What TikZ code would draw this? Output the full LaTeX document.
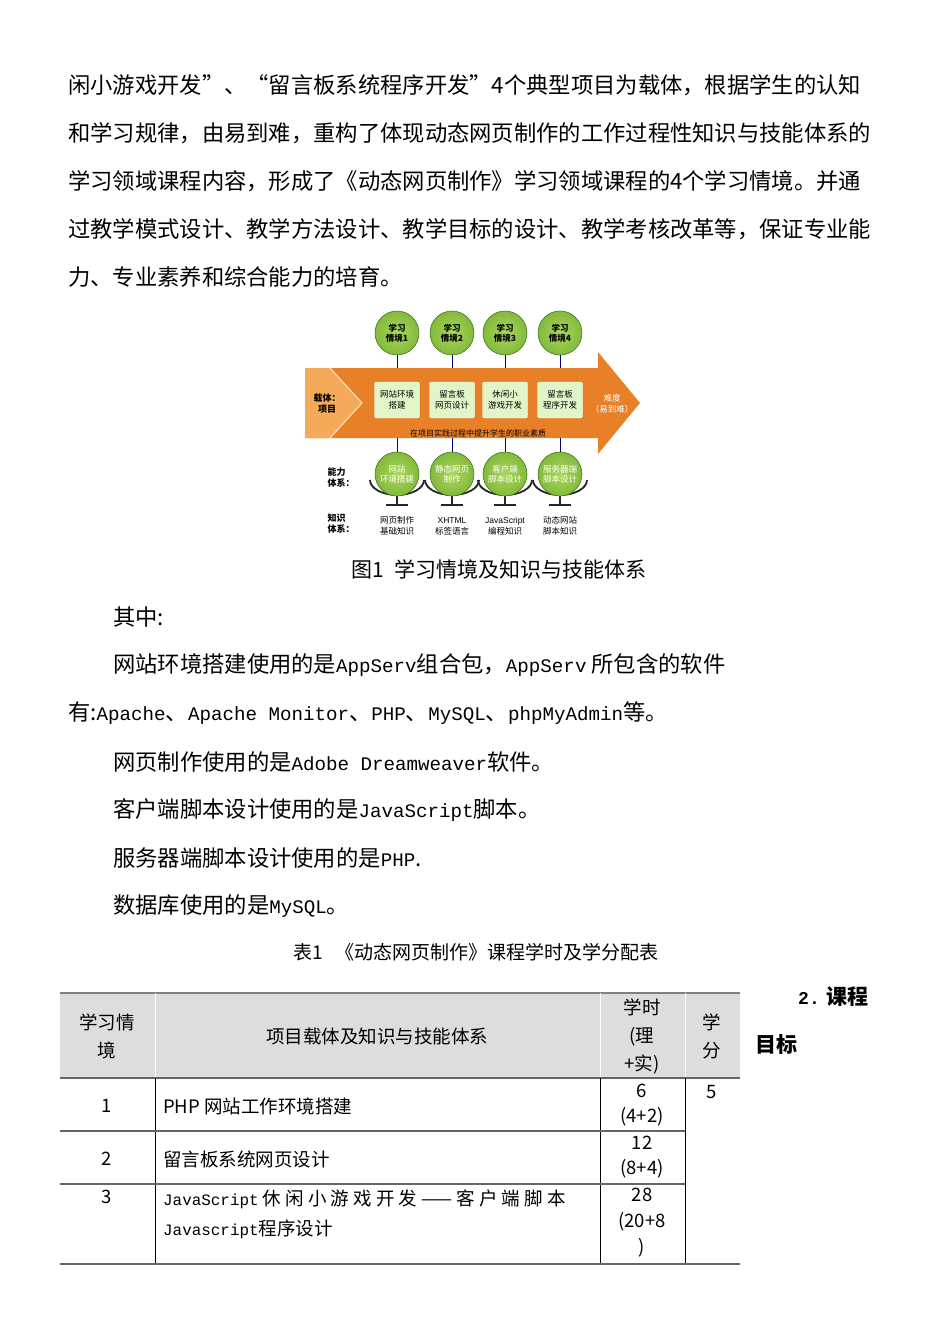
\documentclass[tikz,border=0pt]{standalone}
\usepackage{fontspec}
\setmainfont{Noto Sans CJK SC}
\newfontfamily\monof[Scale=0.86]{Liberation Mono}
\newfontfamily\latf{Liberation Sans}
\definecolor{orA}{RGB}{232,128,40}
\definecolor{orB}{RGB}{245,170,90}
\definecolor{grC}{RGB}{130,185,60}
\definecolor{grD}{RGB}{70,120,30}
\definecolor{bxG}{RGB}{225,245,200}
\definecolor{hdG}{RGB}{221,221,221}
\begin{document}
\begin{tikzpicture}[x=1pt,y=-1pt,
  body/.style={anchor=west,inner sep=0,font=\fontsize{22.3}{26}\selectfont},
  tcell/.style={inner sep=0,font=\fontsize{18.5}{28}\selectfont,align=center},
  ball/.style={circle,minimum size=44,inner sep=0,draw=grD,line width=0.6,inner color={rgb,255:red,170;green,215;blue,90},outer color=grC,align=center,font=\fontsize{8.5}{10}\selectfont\bfseries},
  proj/.style={rectangle,rounded corners=2,fill=bxG,draw=white,minimum width=45,minimum height=36,inner sep=0,align=center,font=\fontsize{8.5}{11}\selectfont},
  small/.style={inner sep=0,align=center,font=\fontsize{8.5}{11}\selectfont},
  conn/.style={draw=blue!50!black,line width=0.8}]
\useasboundingbox (0,0) rectangle (950,1344);
\fill[white] (0,0) rectangle (950,1344);
% paragraph
\node[body] (l1) at (68,85) {闲小游戏开发”、“留言板系统程序开发”4个典型项目为载体，根据学生的认知};
\node[body] (l2) at (68,133) {和学习规律，由易到难，重构了体现动态网页制作的工作过程性知识与技能体系的};
\node[body] (l3) at (68,181) {学习领域课程内容，形成了《动态网页制作》学习领域课程的4个学习情境。并通};
\node[body] (l4) at (68,229) {过教学模式设计、教学方法设计、教学目标的设计、教学考核改革等，保证专业能};
\node[body] (l5) at (68,277) {力、专业素养和综合能力的培育。};
% arrow
\fill[orA] (305,368) -- (598,368) -- (598,352) -- (640,403) -- (598,454) -- (598,438) -- (305,438) -- cycle;
\fill[orB] (305,368) -- (330,368) -- (362,403) -- (330,438) -- (305,438) -- cycle;
\draw[white!80!orange,line width=1] (330,368) -- (362,403) -- (330,438);
\node[small,font=\fontsize{9}{11}\selectfont\bfseries] (carrier) at (327,404) {载体：\\项目};
\node[small,text=white] (diff) at (612,404) {难度\\（易到难）};
\node[small,text=black,font=\fontsize{8}{10}\selectfont] (qual) at (478,433) {在项目实践过程中提升学生的职业素质};
\foreach \x in {397,452,505,560}{
  \draw[line width=1.8,black!85] (\x-27,480) arc[start angle=180,end angle=360,x radius=27,y radius=-15];
  \draw[line width=1.5,black!85] (\x,495) -- (\x,505);
}
\foreach \x/\n/\t/\p/\a/\k [count=\i] in
 {397/1/学习\\情境1/网站环境\\搭建/网站\\环境搭建/网页制作\\基础知识,
  452/2/学习\\情境2/留言板\\网页设计/静态网页\\制作/{\latf XHTML}\\标签语言,
  505/3/学习\\情境3/休闲小\\游戏开发/客户端\\脚本设计/{\latf JavaScript}\\编程知识,
  560/4/学习\\情境4/留言板\\程序开发/服务器端\\脚本设计/动态网站\\脚本知识}{
  \node[ball] (s\i) at (\x,333) {\t};
  \node[proj] (p\i) at (\x,400) {\p};
  \node[ball,font=\fontsize{8.5}{10}\selectfont,text=white] (a\i) at (\x,474) {\a};
  \node[small] (k\i) at (\x,526) {\k};
  \coordinate (top\i) at (\x,368);
  \coordinate (bot\i) at (\x,438);
  \coordinate (st\i) at (\x,505);
  \draw[conn] (s\i) -- (top\i);
  \draw[conn] (bot\i) -- (a\i);
  \draw[line width=1.5,black!85] ([xshift=-11]st\i) -- ([xshift=11]st\i);
}
\node[small,font=\fontsize{9}{11}\selectfont\bfseries,align=left] (abil) at (341,478) {能力\\体系：};
\node[small,font=\fontsize{9}{11}\selectfont\bfseries,align=left] (know) at (341,524) {知识\\体系：};
\node[inner sep=0,font=\fontsize{21}{24}\selectfont] (cap) at (499,569) {图1\ \ 学习情境及知识与技能体系};
% second text
\node[body] (m0) at (113,617) {其中:};
\node[body] (m1) at (113,665) {网站环境搭建使用的是{\monof AppServ}组合包，{\monof AppServ} 所包含的软件};
\node[body] (m2) at (68,713) {有:{\monof Apache}、{\monof Apache Monitor}、{\monof PHP}、{\monof MySQL}、{\monof phpMyAdmin}等。};
\node[body] (m3) at (113,762) {网页制作使用的是{\monof Adobe Dreamweaver}软件。};
\node[body] (m4) at (113,810) {客户端脚本设计使用的是{\monof JavaScript}脚本。};
\node[body] (m5) at (113,858) {服务器端脚本设计使用的是{\monof PHP}.};
\node[body] (m6) at (113,906) {数据库使用的是{\monof MySQL}。};
\node[inner sep=0,font=\fontsize{19}{22}\selectfont] (tt) at (476,952) {表1\ \ \ 《动态网页制作》课程学时及学分配表};
% table
\fill[hdG] (60,993) rectangle (740,1078);
\draw[gray,line width=1.5] (60,993) -- (740,993);
\draw[white,line width=1] (155,993) -- (155,1078) (600,993) -- (600,1078) (685,993) -- (685,1078);
\draw[gray!80!black,line width=1.2] (60,1078) -- (740,1078);
\draw[black,line width=0.8] (155,1078) -- (155,1264) (600,1078) -- (600,1264) (685,1078) -- (685,1264);
\draw[gray!80!black,line width=1.2] (60,1131) -- (685,1131) (60,1184) -- (685,1184) (60,1264) -- (740,1264);
\node[tcell] (h1) at (107,1036) {学习情\\境};
\node[tcell] (h2) at (377,1036) {项目载体及知识与技能体系};
\node[tcell] (h3) at (642,1036) {学时\\(理\\+实)};
\node[tcell] (h4) at (712,1036) {学\\分};
\node[tcell] (r1a) at (107,1106) {1};
\node[tcell,anchor=west] (r1b) at (163,1106) {PHP 网站工作环境搭建};
\node[tcell,font=\fontsize{18.5}{25}\selectfont] (r1c) at (642,1105) {6\\(4+2)};
\node[tcell] (r1d) at (712,1092) {5};
\node[tcell] (r2a) at (107,1159) {2};
\node[tcell,anchor=west] (r2b) at (163,1159) {留言板系统网页设计};
\node[tcell,font=\fontsize{18.5}{25}\selectfont] (r2c) at (642,1157) {12\\(8+4)};
\node[tcell] (r3a) at (107,1197) {3};
\node[tcell,anchor=west,align=left,font=\fontsize{18.5}{30}\selectfont] (r3b) at (163,1214) {{\monof JavaScript} 休 闲 小 游 戏 开 发 —— 客 户 端 脚 本\\{\monof Javascript}程序设计};
\node[tcell,font=\fontsize{18.5}{26}\selectfont] (r3c) at (642,1223) {28\\(20+8\\)};
\node[inner sep=0,anchor=west,font=\fontsize{21}{24}\selectfont\bfseries] (g1) at (798,997) {{\monof\bfseries 2.} 课程};
\node[inner sep=0,anchor=west,font=\fontsize{21}{24}\selectfont\bfseries] (g2) at (755,1045) {目标};
\end{tikzpicture}
\end{document}
